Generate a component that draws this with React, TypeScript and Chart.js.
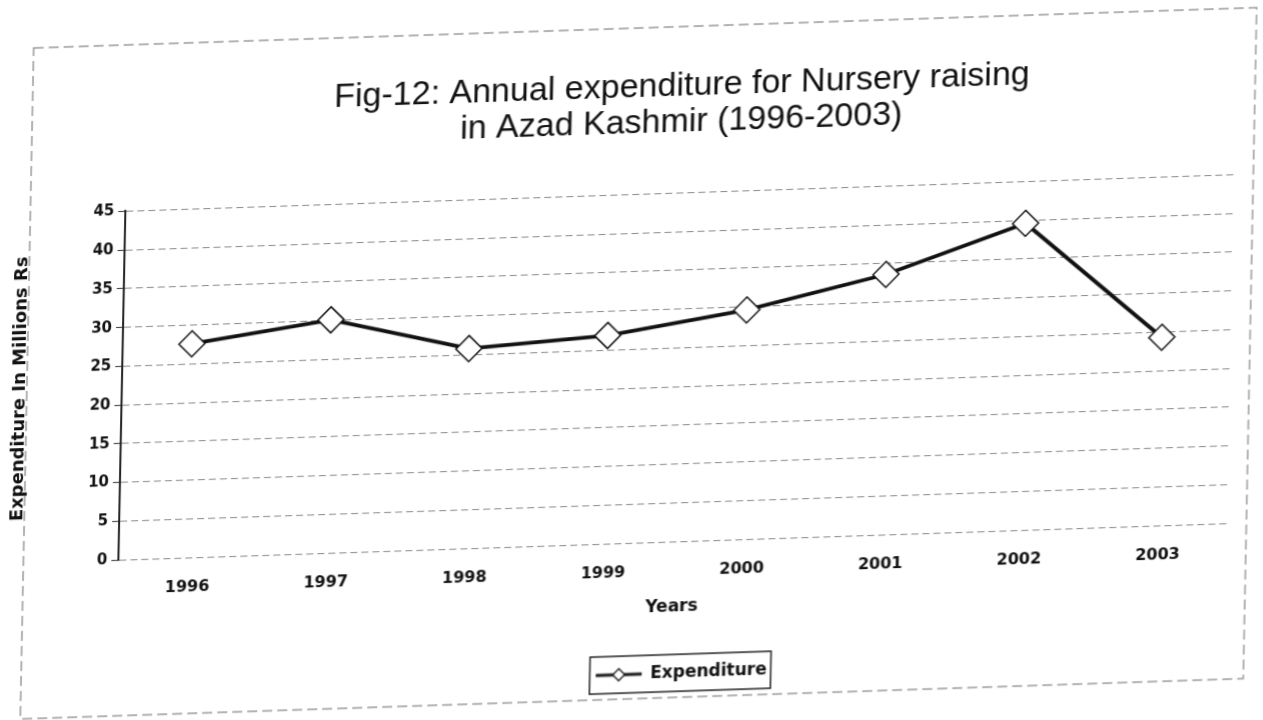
import React, { useEffect, useRef } from "react";
import { Chart, registerables } from "chart.js";

Chart.register(...registerables);

const years = ["1996", "1997", "1998", "1999", "2000", "2001", "2002", "2003"];
const expenditure = [27.6, 30.1, 25.8, 26.9, 29.6, 33.6, 39.6, 24.3];
const yMin = 0;
const yMax = 45;
const yStep = 5;
const titleLines = ["Fig-12: Annual expenditure for Nursery raising", "in Azad Kashmir (1996-2003)"];
const seriesName = "Expenditure";
const xTitle = "Years";
const yTitle = "Expenditure In Millions Rs";

const boldFont = "'DejaVu Sans', 'Liberation Sans', sans-serif";
const titleFont = "'Liberation Sans', Arial, sans-serif";

function makeLegendIcon(): HTMLCanvasElement {
  const c = document.createElement("canvas");
  c.width = 46;
  c.height = 16;
  const ctx = c.getContext("2d")!;
  ctx.strokeStyle = "#111";
  ctx.lineWidth = 3;
  ctx.beginPath();
  ctx.moveTo(0, 8);
  ctx.lineTo(46, 8);
  ctx.stroke();
  ctx.beginPath();
  ctx.moveTo(23 - 6, 8);
  ctx.lineTo(23, 2);
  ctx.lineTo(23 + 6, 8);
  ctx.lineTo(23, 14);
  ctx.closePath();
  ctx.fillStyle = "#fff";
  ctx.fill();
  ctx.lineWidth = 1.3;
  ctx.stroke();
  return c;
}

const framePlugin = {
  id: "frame",
  afterLayout(chart: any) {
    const lg = chart.legend;
    if (lg) {
      lg.left += 11;
      lg.right += 11;
    }
  },
  beforeDraw(chart: any) {
    const ctx = chart.ctx;
    ctx.save();
    ctx.fillStyle = "#ffffff";
    ctx.fillRect(0, 0, chart.width, chart.height);
    ctx.strokeStyle = "#9a9a9a";
    ctx.lineWidth = 1.5;
    ctx.setLineDash([10, 5]);
    ctx.strokeRect(27, 28, 1223, 671);
    ctx.restore();
  },
  afterDraw(chart: any) {
    const lg = chart.legend;
    if (!lg || !lg.legendHitBoxes || !lg.legendHitBoxes.length) return;
    const hb = lg.legendHitBoxes[0];
    const ctx = chart.ctx;
    ctx.save();
    ctx.strokeStyle = "#222";
    ctx.lineWidth = 1.5;
    ctx.setLineDash([]);
    ctx.strokeRect(hb.left - 6, hb.top - 10, hb.width + 10, hb.height + 20);
    ctx.restore();
  },
};

export default function App() {
  const canvasRef = useRef<HTMLCanvasElement | null>(null);

  useEffect(() => {
    if (!canvasRef.current) return;
    const icon = makeLegendIcon();
    const chart = new Chart(canvasRef.current, {
      type: "line",
      data: {
        labels: years,
        datasets: [
          {
            label: seriesName,
            data: expenditure,
            borderColor: "#111",
            borderWidth: 3.8,
            pointStyle: "rectRot",
            pointRadius: 13,
            pointBorderWidth: 1.5,
            pointBackgroundColor: "#fff",
            pointBorderColor: "#111",
            tension: 0,
            clip: false,
          },
        ],
      },
      options: {
        responsive: false,
        animation: false,
        devicePixelRatio: 1,
        layout: { padding: { left: 0, right: 32, top: 0, bottom: 27 } },
        plugins: {
          title: {
            display: true,
            text: titleLines,
            fullSize: false,
            color: "#111",
            font: { family: titleFont, size: 34, weight: "normal", lineHeight: 1.08 },
            padding: { top: 69, bottom: 52 },
          },
          legend: {
            display: true,
            position: "bottom",
            fullSize: false,
            labels: {
              usePointStyle: true,
              pointStyleWidth: 46,
              color: "#111",
              font: { family: boldFont, size: 17, weight: "bold" },
              padding: 10,
              generateLabels: () => [
                {
                  text: seriesName,
                  pointStyle: icon as any,
                  fillStyle: "#fff",
                  strokeStyle: "#111",
                  lineWidth: 0,
                  hidden: false,
                  datasetIndex: 0,
                  fontColor: "#111",
                } as any,
              ],
            },
          },
          tooltip: { enabled: false },
        },
        scales: {
          x: {
            type: "category",
            offset: true,
            grid: { display: false, drawTicks: false },
            border: { display: false },
            ticks: {
              color: "#111",
              font: { family: boldFont, size: 16, weight: "bold" },
              padding: 20,
              maxRotation: 0,
            },
            title: {
              display: true,
              text: xTitle,
              color: "#111",
              font: { family: boldFont, size: 17, weight: "bold" },
              padding: { top: 0, bottom: 37 },
            },
            afterFit: (s: any) => {
              s.height = 113;
            },
          },
          y: {
            min: yMin,
            max: yMax,
            ticks: {
              stepSize: yStep,
              color: "#111",
              font: { family: boldFont, size: 15, weight: "bold" },
              padding: 4,
            },
            grid: { color: "#8a8a8a", tickColor: "#333", tickLength: 7, lineWidth: 1 },
            border: { display: true, color: "#222", width: 2, dash: [7, 4] },
            title: {
              display: true,
              text: yTitle,
              color: "#111",
              font: { family: boldFont, size: 18, weight: "bold" },
              padding: { top: 10, bottom: 0 },
            },
            afterFit: (s: any) => {
              s.width = 122;
            },
          },
        },
      },
      plugins: [framePlugin],
    } as any);
    return () => chart.destroy();
  }, []);

  return (
    <div style={{ position: "fixed", left: 0, top: 0, width: 1263, height: 720, overflow: "hidden", background: "#fff" }}>
      <canvas
        ref={canvasRef}
        width={1263}
        height={720}
        style={{ display: "block", width: 1263, height: 720, transform: "matrix(1, -0.033, -0.02, 1, 0, 0)" }}
      />
    </div>
  );
}
